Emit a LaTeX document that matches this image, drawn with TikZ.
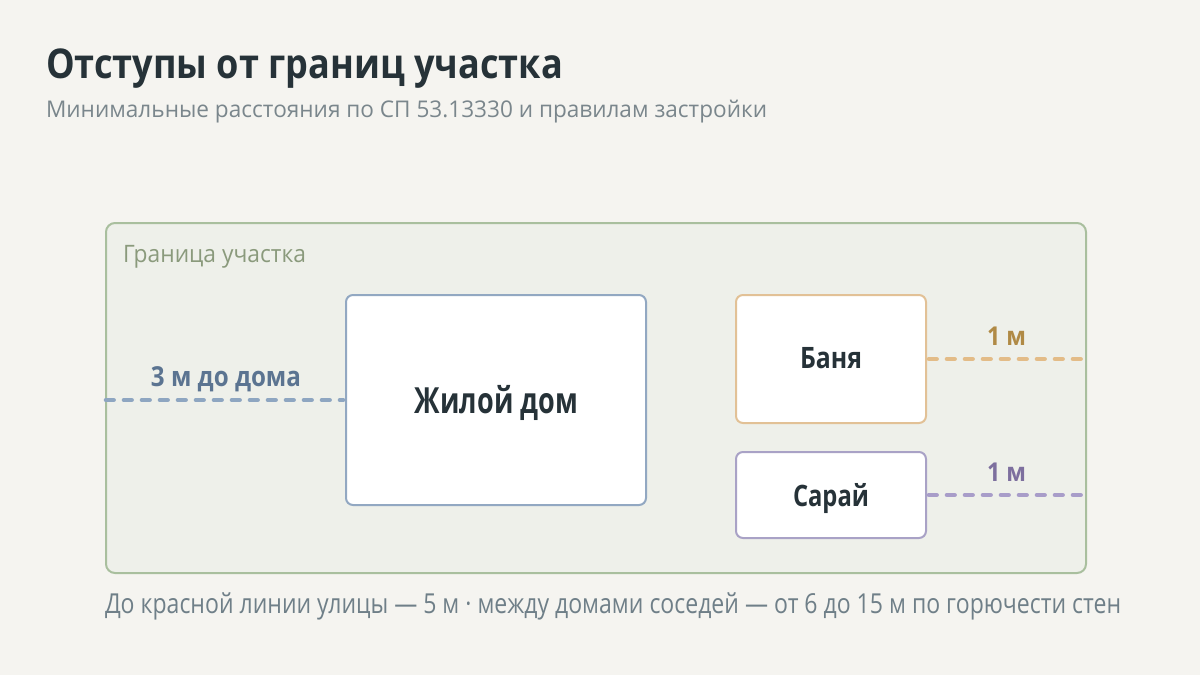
\documentclass[tikz,border=0pt]{standalone}
\usepackage{fontspec}
\setmainfont{Open Sans}
\usepackage{graphicx}
\definecolor{bgc}{HTML}{F5F4F0}
\definecolor{plotfill}{HTML}{EEF0EA}
\definecolor{plotline}{HTML}{A9BF9E}
\definecolor{titlec}{HTML}{263238}
\definecolor{subc}{HTML}{7A868C}
\definecolor{plotlab}{HTML}{8A9A7C}
\definecolor{housel}{HTML}{92A8C2}
\definecolor{housed}{HTML}{8EA6C1}
\definecolor{housetx}{HTML}{5B7491}
\definecolor{banyal}{HTML}{E2C196}
\definecolor{banyad}{HTML}{E3BC88}
\definecolor{banyatx}{HTML}{B08A45}
\definecolor{sarayl}{HTML}{A9A2C6}
\definecolor{sarayd}{HTML}{A89DC9}
\definecolor{saraytx}{HTML}{7D6F9E}
\definecolor{footc}{HTML}{6F7F88}
\newcommand{\fitw}[2]{\resizebox{#1pt}{\height}{#2}}
\begin{document}
\begin{tikzpicture}[x=1pt,y=-1pt,
  txt/.style={inner sep=0pt,outer sep=0pt},
  bld/.style={txt,font=\bfseries},
  bldg/.style={draw,fill=white,line width=2pt,rounded corners=7pt,inner sep=0pt},
  gap/.style={line width=4.6pt,dash pattern=on 7.6pt off 10.4pt,line cap=round}]
\fill[bgc] (0,0) rectangle (1200,675);
\useasboundingbox (0,0) rectangle (1200,675);
% title
\node[bld,anchor=base west,text=titlec,font=\bfseries\fontsize{41}{48}\selectfont] (title) at (46,78) {\fitw{517}{Отступы от границ участка}};
\node[txt,anchor=base west,text=subc,font=\fontsize{23}{27}\selectfont] (sub) at (46,117) {\fitw{721}{Минимальные расстояния по СП 53.13330 и правилам застройки}};
% plot
\node[draw=plotline,fill=plotfill,line width=2pt,rounded corners=9pt,minimum width=980pt,minimum height=350pt,inner sep=0pt] (plot) at (596,398) {};
\node[txt,anchor=base west,text=plotlab,font=\fontsize{24}{28}\selectfont] (plotlabel) at (123,262) {\fitw{183}{Граница участка}};
% buildings
\node[bldg,draw=housel,minimum width=300pt,minimum height=210pt] (house) at (496,400) {};
\node[bldg,draw=banyal,minimum width=190pt,minimum height=128pt] (banya) at (831,359) {};
\node[bldg,draw=sarayl,minimum width=190pt,minimum height=86pt] (saray) at (831,495) {};
\node[bld,anchor=base,text=titlec,font=\bfseries\fontsize{36}{40}\selectfont] (houselab) at (496.5,413) {\fitw{163}{Жилой дом}};
\node[bld,anchor=base,text=titlec,font=\bfseries\fontsize{29.5}{34}\selectfont] (banyalab) at (831,368) {\fitw{62}{Баня}};
\node[bld,anchor=base,text=titlec,font=\bfseries\fontsize{29.5}{34}\selectfont] (saraylab) at (831,506) {\fitw{76}{Сарай}};
% distances
\coordinate (pw) at (plot.west |- house.west);
\draw[gap,housed] ([xshift=1pt]pw) -- ([xshift=-2pt]house.west);
\coordinate (pe1) at (plot.east |- banya.east);
\draw[gap,banyad] ([xshift=2pt]banya.east) -- ([xshift=-2pt]pe1);
\coordinate (pe2) at (plot.east |- saray.east);
\draw[gap,sarayd] ([xshift=2pt]saray.east) -- ([xshift=-2pt]pe2);
\node[bld,anchor=base,text=housetx,font=\bfseries\fontsize{27.5}{32}\selectfont] (houselen) at (226,386) {\fitw{150}{3 м до дома}};
\node[bld,anchor=base,text=banyatx,font=\bfseries\fontsize{26}{30}\selectfont] (banyalen) at (1006.5,345) {\fitw{39}{1 м}};
\node[bld,anchor=base,text=saraytx,font=\bfseries\fontsize{26}{30}\selectfont] (saraylen) at (1006.5,481) {\fitw{39}{1 м}};
% footer
\node[txt,anchor=base west,text=footc,font=\fontsize{27.5}{32}\selectfont] (foot) at (105,613) {\fitw{1016}{До красной линии улицы — 5 м · между домами соседей — от 6 до 15 м по горючести стен}};
\end{tikzpicture}
\end{document}
